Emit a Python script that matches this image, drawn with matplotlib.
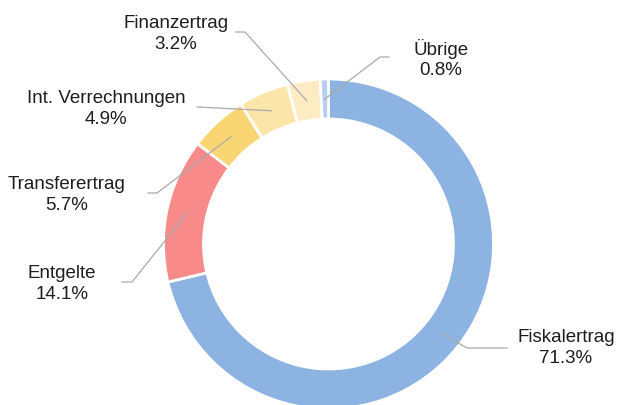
import numpy as np
import matplotlib
matplotlib.use("Agg")
import matplotlib.pyplot as plt

categories = ["Fiskalertrag", "Entgelte", "Transferertrag", "Int. Verrechnungen", "Finanzertrag", "Übrige"]
values = [71.3, 14.1, 5.7, 4.9, 3.2, 0.8]
colors = ["#8DB3E2", "#F88A8A", "#F9D673", "#FCE5A9", "#FDEBC4", "#B7CEEE"]
# label centre positions (pixels, from top-left)
label_pos = [(566, 348), (62, 284), (67, 195), (106, 109), (176, 34), (441, 59)]
# horizontal elbow start (pixel x) next to each label
elbow_x = [(507, 467), (122, 132), (148, 157), (197, 197), (236, 245), (389, 380)]
elbow_y = [348, 282, 193, 107, 32, 57]

W, H = 629, 405
fig = plt.figure(figsize=(W / 100, H / 100), dpi=100)
ax = fig.add_axes([0, 0, 1, 1])
ax.axis("off")

cx, cy_top = 328.5, 244
R = 165
width = 40
center = (cx, H - cy_top)

wedges, _ = ax.pie(values, colors=colors, startangle=90, counterclock=False,
                   radius=R, center=center,
                   wedgeprops=dict(width=width, edgecolor="white", linewidth=2))
ax.set_xlim(0, W)
ax.set_ylim(0, H)
ax.set_aspect("equal")

for w, cat, val, (lx, ly), (ex0, ex1), eyp in zip(wedges, categories, values, label_pos, elbow_x, elbow_y):
    ang = np.deg2rad((w.theta1 + w.theta2) / 2)
    rm = R - width / 2
    px = center[0] + rm * np.cos(ang)
    py = center[1] + rm * np.sin(ang)
    ey = H - eyp
    ax.plot([ex0, ex1, px], [ey, ey, py], color="#AAAAAA", lw=0.9, zorder=5)
    ax.text(lx, H - ly, f"{cat}\n{val:.1f}%", ha="center", va="center",
            fontsize=13.5, family="Liberation Sans", color="#1E1E1E",
            linespacing=1.3, zorder=6)

fig.savefig("out.png", dpi=100)
